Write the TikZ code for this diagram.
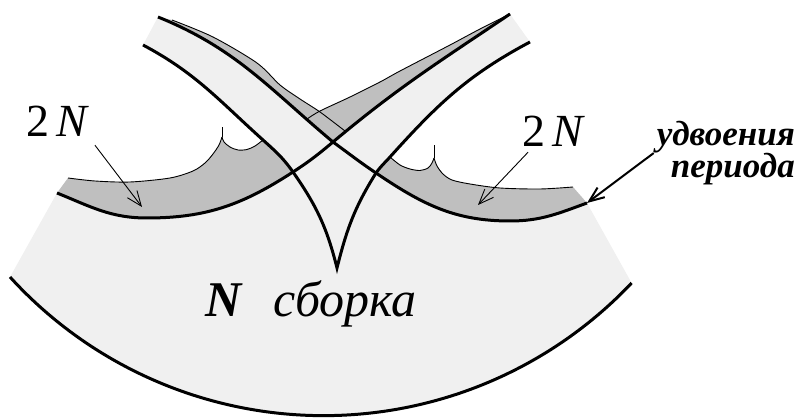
\documentclass[tikz,border=0pt]{standalone}
\usepackage{fontspec}
\setmainfont{Liberation Serif}
\usetikzlibrary{arrows.meta}

\definecolor{bandlight}{gray}{0.94}
\definecolor{banddark}{gray}{0.75}
\newcommand{\tightlines}{\lineskiplimit=-20pt\relax}

\begin{document}
\begin{tikzpicture}[x=1pt, y=1pt,
    thickline/.style={line width=3pt},
    thinline/.style={line width=0.9pt},
    pointer/.style={line width=0.9pt, -{Straight Barb[length=15pt,width=12pt]}},
    lbl/.style={inner sep=0pt, font=\fontsize{46}{46}\selectfont}
  ]
    \useasboundingbox (0,0) rectangle (796,418);

    \coordinate (lo) at (10,141);
    \coordinate (A) at (57,225);
    \coordinate (B) at (147,200);
    \coordinate (P1) at (293,246);
    \coordinate (P0) at (333,276);
    \coordinate (E) at (510,404);
    \coordinate (S) at (158,401);
    \coordinate (P2) at (376,245);
    \coordinate (Bm) at (510,197);
    \coordinate (F) at (587,215);
    \coordinate (C) at (337,150);
    \coordinate (W1) at (263,278);
    \coordinate (G) at (143,373);
    \coordinate (W2) at (390,261);
    \coordinate (H) at (530,376);
    \coordinate (tipL) at (142,211);
    \coordinate (tipR) at (478,213);

    \fill[bandlight] (lo) arc[start angle=222.3, end angle=316.6, radius=424pt] -- (F)
      to[out=200,in=0] (Bm) to[out=180,in=-34] (P2)
      to[out=55,in=-132] (W2) to[out=48,in=-152] (H) -- (E)
      to[out=214,in=40] (P0) to[out=140,in=-22] (S) -- (G)
      to[out=-28,in=138] (W1) to[out=-42,in=125] (P1)
      to[out=213,in=0] (B) to[out=180,in=-22] (A) -- cycle;

    \fill[banddark] (W1)
      -- plot[smooth] coordinates {(263,278) (255,272) (247,268.5) (238,268) (230,271) (224,276) (222,281)}
      -- plot[smooth] coordinates {(222,281) (219,273) (213,264) (205,255) (193,247) (170,240) (130,236) (95,237) (68,240)}
      -- (A) to[out=-22,in=180] (B) to[out=0,in=213] (P1) to[out=125,in=-42] (W1) -- cycle;
    \fill[banddark] (W2)
      -- plot[smooth] coordinates {(390,261) (400,253) (410,249) (420,247.5) (428,250) (432,255) (434,260)}
      -- plot[smooth] coordinates {(434,260) (437,252) (443,244) (452,238) (470,234) (500,230) (540,229) (573,231)}
      -- (F) to[out=200,in=0] (Bm) to[out=180,in=-34] (P2) to[out=55,in=-132] (W2) -- cycle;
    \fill[banddark] (S)
      -- plot[smooth] coordinates {(172,398) (213,381) (257,355) (280,333) (300,319) (320,306) (345,287)}
      -- (P0) to[out=140,in=-22] (S) -- cycle;
    \fill[banddark] plot[smooth] coordinates {(307,299) (320,307) (350,321) (380,336) (400,347) (450,373) (480,389) (510,404)}
      -- (E) to[out=214,in=40] (P0) -- cycle;

    \draw[thickline] (lo) arc[start angle=222.3, end angle=316.6, radius=424pt];
    \draw[thickline] (A) to[out=-22,in=180] (B) to[out=0,in=213] (P1)
      to[out=33,in=220] (P0) to[out=40,in=214] (E);
    \draw[thickline] (S) to[out=-22,in=140] (P0) to[out=-36,in=146] (P2)
      to[out=-34,in=180] (Bm) to[out=0,in=200] (F);
    \draw[thickline] (G) to[out=-28,in=138] (W1) to[out=-42,in=125] (P1)
      to[out=-55,in=104] (C) to[out=76,in=-122] (P2)
      to[out=55,in=-132] (W2) to[out=48,in=-152] (H);

    \draw[thinline] plot[smooth] coordinates {(263,278) (255,272) (247,268.5) (238,268) (230,271) (224,276) (222,281)};
    \draw[thinline] plot[smooth] coordinates {(222,281) (219,273) (213,264) (205,255) (193,247) (170,240) (130,236) (95,237) (68,240)};
    \draw[thinline] (222,281) -- (222,291);
    \draw[thinline] plot[smooth] coordinates {(390,261) (400,253) (410,249) (420,247.5) (428,250) (432,255) (434,260)};
    \draw[thinline] plot[smooth] coordinates {(434,260) (437,252) (443,244) (452,238) (470,234) (500,230) (540,229) (573,231)};
    \draw[thinline] (434,260) -- (434,273);
    \draw[thinline] plot[smooth] coordinates {(172,398) (213,381) (257,355) (280,333) (300,319) (320,306) (345,287)};
    \draw[thinline] plot[smooth] coordinates {(307,299) (320,307) (350,321) (380,336) (400,347) (450,373) (480,389) (510,404)};

    \node[lbl, anchor=base] (dblL) at (58,281) {2\,\textit{N}};
    \node[lbl, anchor=base] (dblR) at (554,271) {2\,\textit{N}};
    \node[lbl, font=\fontsize{50}{50}\selectfont, anchor=base west] (cusp) at (205,101)
      {\textbf{\textit{N}}\hspace{0.62em}\textit{сборка}};
    \node[inner sep=0pt, align=right,
      font={\fontsize{35}{32}\selectfont\bfseries\itshape\tightlines},
      anchor=north east] (pd) at (795,297) {удвоения\\периода};

    \draw[pointer] ([shift={(5,-8)}]dblL.south east) -- (tipL);
    \draw[pointer] ([shift={(6,-5)}]dblR.south west) -- (tipR);
    \draw[pointer, line width=2pt] ([shift={(-3,0)}]pd.west) -- (F);
\end{tikzpicture}
\end{document}
